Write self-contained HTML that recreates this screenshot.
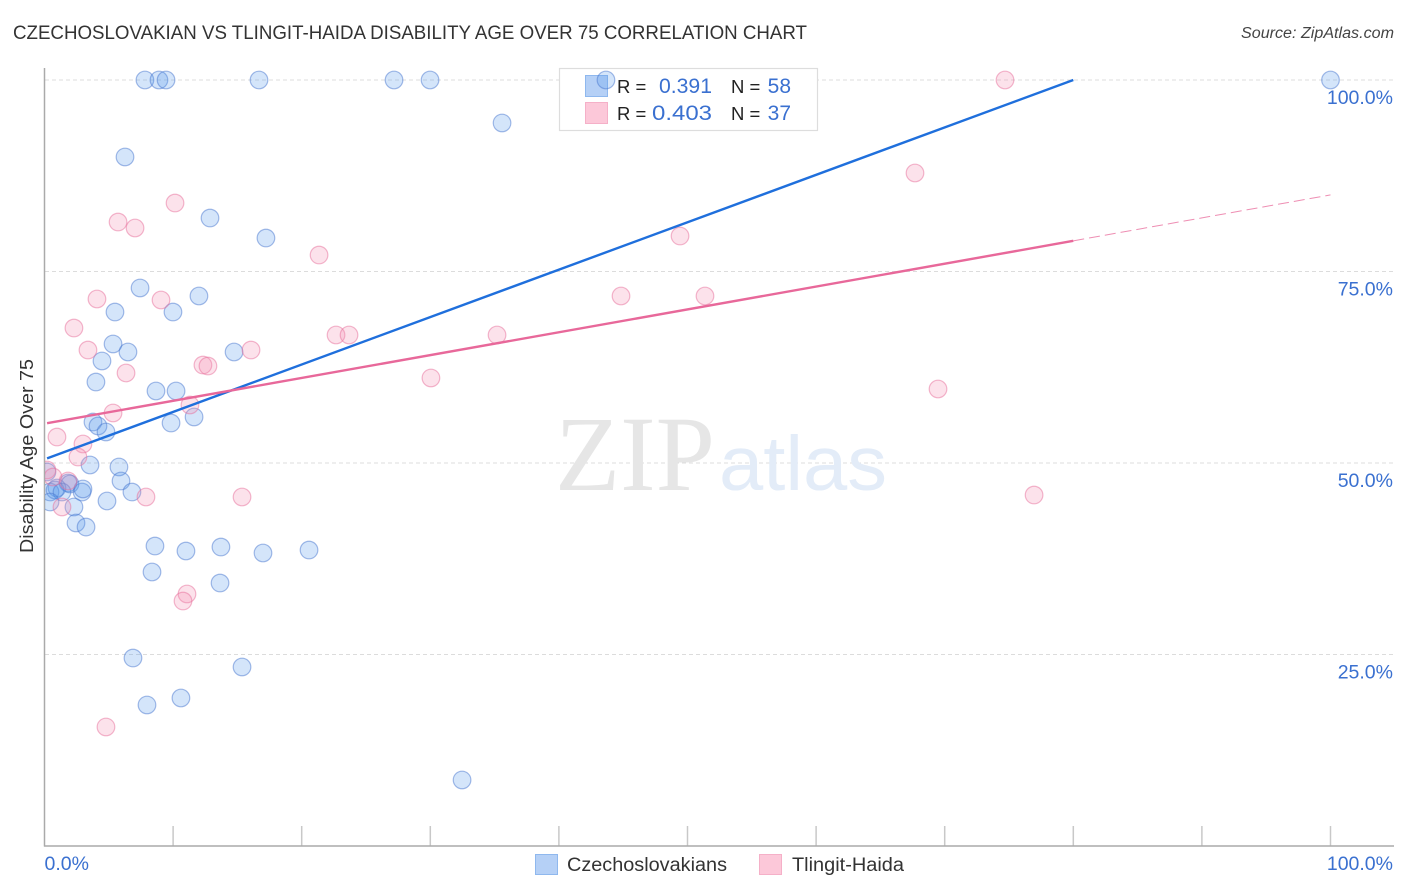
<!DOCTYPE html>
<html lang="en">
<head>
<meta charset="utf-8">
<title>Czechoslovakian vs Tlingit-Haida Disability Age Over 75 Correlation Chart</title>
<style>
html,body{margin:0;padding:0;background:#fff;width:1406px;height:892px;overflow:hidden}
svg{display:block;font-family:"Liberation Sans",sans-serif}
</style>
</head>
<body>
<svg id="chart" width="1406" height="892" viewBox="0 0 1406 892" xmlns="http://www.w3.org/2000/svg">
  <defs>
    <clipPath id="plot-clip"><rect x="45" y="60" width="1361" height="786"/></clipPath>
  </defs>
  <rect width="1406" height="892" fill="#fff"/>
  <text x="13" y="39" font-size="19.5" fill="#333" textLength="794" lengthAdjust="spacingAndGlyphs">CZECHOSLOVAKIAN VS TLINGIT-HAIDA DISABILITY AGE OVER 75 CORRELATION CHART</text>
  <text x="1241" y="38" font-size="15.5" font-style="italic" fill="#444" textLength="153" lengthAdjust="spacingAndGlyphs">Source: ZipAtlas.com</text>
  <text transform="translate(33,456) rotate(-90)" font-size="18" fill="#333" text-anchor="middle" textLength="194" lengthAdjust="spacingAndGlyphs">Disability Age Over 75</text>

  <g id="grid"></g>

  <text x="555" y="490" font-family="'Liberation Serif',serif" font-size="107" fill="#e6e6e6" textLength="160" lengthAdjust="spacingAndGlyphs">ZIP</text>
  <text x="719" y="490" font-size="77" fill="#e3ecf8" textLength="168" lengthAdjust="spacingAndGlyphs">atlas</text>

  <g>
    <rect x="559.5" y="68.5" width="258" height="62" fill="#fff" stroke="#dddddd" stroke-width="1.2"/>
    <rect x="585.5" y="75.5" width="22" height="21" fill="#b5d0f6" stroke="#8fb8ee"/>
    <rect x="585.5" y="102.5" width="22" height="21" fill="#fcc8d9" stroke="#f5b0c8"/>
    <text x="617" y="93" font-size="18.5" fill="#222">R =</text>
    <text x="659" y="93" font-size="21" fill="#3a70d0" textLength="53" lengthAdjust="spacingAndGlyphs">0.391</text>
    <text x="731" y="93" font-size="18.5" fill="#222">N =</text>
    <text x="791" y="93" font-size="21" fill="#3a70d0" text-anchor="end">58</text>
    <text x="617" y="120" font-size="18.5" fill="#222">R =</text>
    <text x="652" y="120" font-size="21" fill="#3a70d0" textLength="60" lengthAdjust="spacingAndGlyphs">0.403</text>
    <text x="731" y="120" font-size="18.5" fill="#222">N =</text>
    <text x="791" y="120" font-size="21" fill="#3a70d0" text-anchor="end">37</text>
  </g>

  <g id="axes"></g>
  <g id="marks" clip-path="url(#plot-clip)"></g>
  <g id="tick-labels"></g>

  <g>
    <g>
      <rect x="535.5" y="854.5" width="22" height="20" fill="#b5d0f6" stroke="#8fb8ee"/>
      <text x="567" y="871" font-size="19" fill="#333" textLength="160" lengthAdjust="spacingAndGlyphs">Czechoslovakians</text>
    </g>
    <g>
      <rect x="759.5" y="854.5" width="22" height="20" fill="#fcc8d9" stroke="#f5b0c8"/>
      <text x="792" y="871" font-size="19" fill="#333" textLength="112" lengthAdjust="spacingAndGlyphs">Tlingit-Haida</text>
    </g>
  </g>
</svg>
<script>
const blueX = [7.81,8.90,9.45,16.68,27.18,29.98,43.66,100,35.58,6.26,12.87,17.22,7.43,12.01,5.48,9.99,5.33,6.49,14.74,4.47,4.00,8.67,10.23,11.63,9.84,3.77,4.16,4.78,3.54,5.79,5.95,6.80,4.86,1.83,1.98,0.97,0.43,0.82,1.36,2.92,2.99,2.29,0.43,2.45,3.23,8.59,13.72,11.00,16.99,20.57,8.36,13.65,6.88,15.36,10.61,7.97,32.47,0.19];
const blueY = [100,100,100,100,100,100,100,100,94.39,89.95,81.98,79.37,72.85,71.80,69.71,69.71,65.54,64.49,64.49,63.32,60.57,59.40,59.40,56.01,55.22,55.35,54.83,54.05,49.74,49.48,47.65,46.21,45.04,47.39,47.26,46.74,46.21,46.48,46.21,46.21,46.61,44.26,44.91,42.17,41.64,39.16,39.03,38.51,38.25,38.64,35.77,34.33,24.54,23.37,19.32,18.41,8.62,48.83];
const pinkX = [74.69,67.69,10.15,5.72,7.04,49.42,21.35,4.08,9.06,44.83,51.36,2.29,22.67,23.68,35.19,3.38,16.06,12.32,12.71,6.34,30.05,69.48,11.31,5.33,0.97,2.99,2.60,0.19,0.66,1.83,7.89,15.36,76.95,1.36,11.08,10.77,4.78];
const pinkY = [100,87.86,83.94,81.46,80.68,79.63,77.15,71.41,71.28,71.80,71.80,67.62,66.71,66.71,66.71,64.75,64.75,62.79,62.66,61.75,61.10,59.66,57.57,56.53,53.39,52.48,50.78,49.09,48.17,47.65,45.56,45.56,45.82,44.26,32.90,31.98,15.54];
const blueTrendX = [0.2,80];
const blueTrendY = [50.6,100];
const pinkTrendX = [0.2,80];
const pinkTrendY = [55.2,79];
const pinkDashX = [80,100];
const pinkDashY = [79,85];
const yTicks = [100,75,50,25];
const yTickLabels = ['100.0%','75.0%','50.0%','25.0%'];
const xTicks = [10,20,30,40,50,60,70,80,90,100];
const xEndValues = [0,100];
const xEndLabels = ['0.0%','100.0%'];

const NS = 'http://www.w3.org/2000/svg';
function xScale(v){ return 44.5 + v * 12.86; }
function yScale(v){ return 846 - v * 7.66; }
function make(tag, attrs, parent){
  const el = document.createElementNS(NS, tag);
  for (const k in attrs) el.setAttribute(k, attrs[k]);
  parent.appendChild(el);
  return el;
}
const grid = document.getElementById('grid');
const axes = document.getElementById('axes');
const marks = document.getElementById('marks');
const labels = document.getElementById('tick-labels');

yTicks.forEach(function(t){
  const l = make('line', {x1:45, x2:1393, y1:yScale(t), y2:yScale(t), stroke:'#dcdcdc', 'stroke-width':1, 'stroke-dasharray':'4 3'}, grid);
  
  
});

xTicks.forEach(function(t){
  const l = make('line', {x1:xScale(t), x2:xScale(t), y1:826, y2:846, stroke:'#c8c8c8', 'stroke-width':1.5}, axes);
  
  
});
const yAxis = make('line', {x1:44.5, x2:44.5, y1:68, y2:846.5, stroke:'#aaaaaa', 'stroke-width':1.5}, axes);


const xAxis = make('line', {x1:44, x2:1394, y1:846, y2:846, stroke:'#aaaaaa', 'stroke-width':1.5}, axes);



function drawPoints(xs, ys, fill, stroke, fillOpacity, name){
  xs.forEach(function(x, i){
    const c = make('circle', {cx:xScale(x), cy:yScale(ys[i]), r:8.8, fill:fill, 'fill-opacity':fillOpacity, stroke:stroke, 'stroke-opacity':0.5, 'stroke-width':1.2}, marks);
    
    
  });
}
drawPoints(blueX, blueY, '#5a9bec', '#4a78d0', 0.26, 'czechoslovakians');
drawPoints(pinkX, pinkY, '#f48fb1', '#e8709c', 0.26, 'tlingit-haida');

const blueLine = make('line', {x1:xScale(blueTrendX[0]), y1:yScale(blueTrendY[0]), x2:xScale(blueTrendX[1]), y2:yScale(blueTrendY[1]), stroke:'#1f6fdc', 'stroke-width':2.4}, marks);


const pinkLine = make('line', {x1:xScale(pinkTrendX[0]), y1:yScale(pinkTrendY[0]), x2:xScale(pinkTrendX[1]), y2:yScale(pinkTrendY[1]), stroke:'#e8689a', 'stroke-width':2.4}, marks);


const pinkDash = make('line', {x1:xScale(pinkDashX[0]), y1:yScale(pinkDashY[0]), x2:xScale(pinkDashX[1]), y2:yScale(pinkDashY[1]), stroke:'#e8689a', 'stroke-width':1, 'stroke-dasharray':'11 5', 'stroke-opacity':0.75}, marks);



yTicks.forEach(function(t, i){
  const e = make('text', {x:1393, y:yScale(t) + 24, 'font-size':19.5, fill:'#3a70d0', 'text-anchor':'end'}, labels);
  e.textContent = yTickLabels[i];
  
  
});
xEndValues.forEach(function(t, i){
  const e = make('text', {x: i === 0 ? xScale(t) : 1393, y:870, 'font-size':19.5, fill:'#3a70d0', 'text-anchor': i === 0 ? 'start' : 'end'}, labels);
  e.textContent = xEndLabels[i];
  
  
});
</script>
</body>
</html>
